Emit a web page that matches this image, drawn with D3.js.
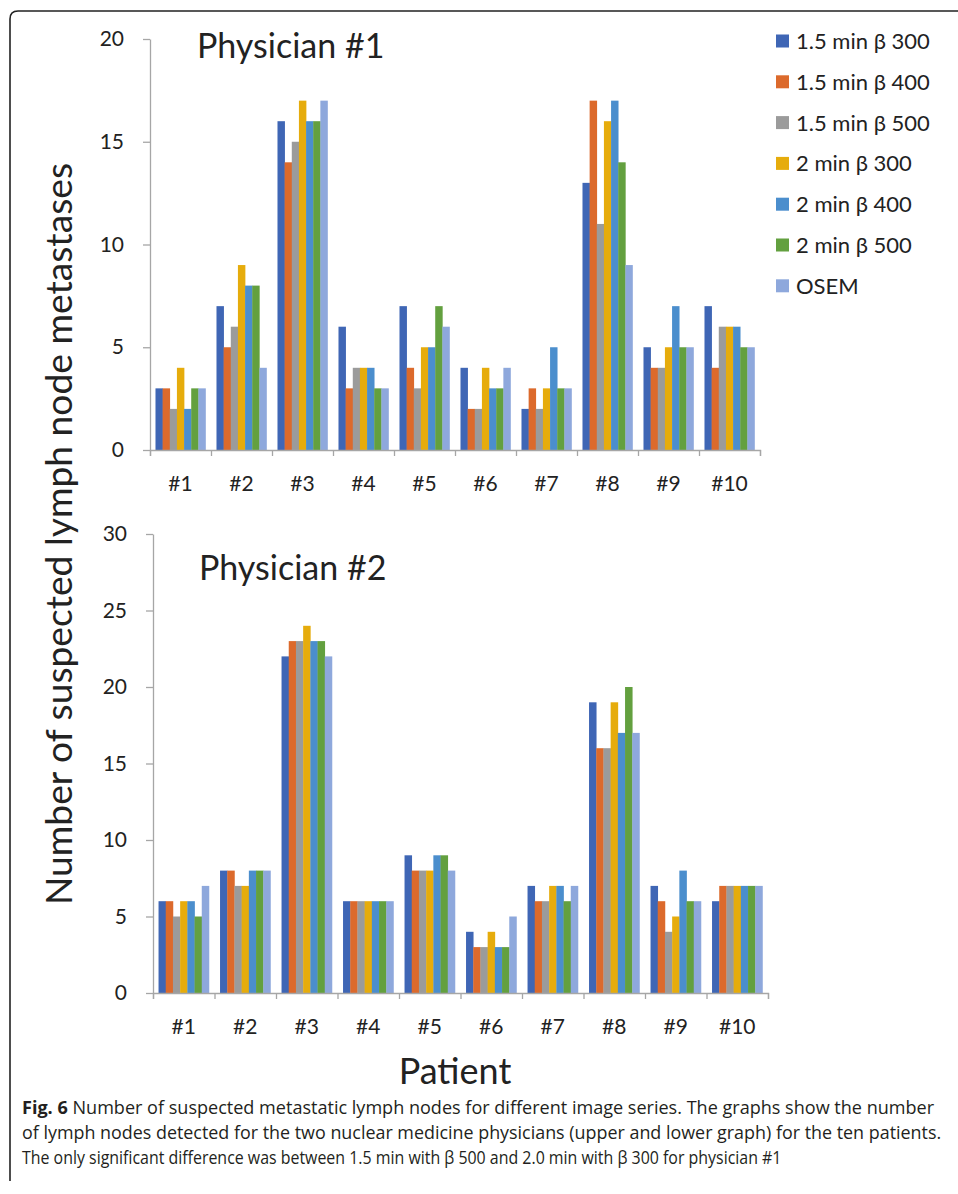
<!DOCTYPE html>
<html>
<head>
<meta charset="utf-8">
<script src="https://cdn.jsdelivr.net/npm/d3@7"></script>
<style>
  html, body { margin: 0; padding: 0; background: #fff; }
  svg text { font-family: Lato, "Open Sans", sans-serif; fill: #222; }
  .axis path, .axis line { stroke: #a6a6a6; stroke-width: 1.3; }
  .caption text { font-family: "Open Sans", sans-serif; fill: #231f20; }
</style>
</head>
<body>
<svg id="chart" width="958" height="1194"></svg>
<script>
/* Fig. 6: suspected lymph node metastases per patient, two physicians */

const patients = ['#1', '#2', '#3', '#4', '#5', '#6', '#7', '#8', '#9', '#10'];
const seriesNames = ['1.5 min β 300', '1.5 min β 400', '1.5 min β 500', '2 min β 300', '2 min β 400', '2 min β 500', 'OSEM'];
const seriesColors = ['#3f66b5', '#dc6a2c', '#9b9b9b', '#e6ac0c', '#4b8ecd', '#63a03f', '#8ea8dc'];

// one row per series, one value per patient
const physician1 = [
  [3, 7, 16, 6, 7, 4, 2, 13, 5, 7],
  [3, 5, 14, 3, 4, 2, 3, 17, 4, 4],
  [2, 6, 15, 4, 3, 2, 2, 11, 4, 6],
  [4, 9, 17, 4, 5, 4, 3, 16, 5, 6],
  [2, 8, 16, 4, 5, 3, 5, 17, 7, 6],
  [3, 8, 16, 3, 7, 3, 3, 14, 5, 5],
  [3, 4, 17, 3, 6, 4, 3, 9, 5, 5]
];
const physician2 = [
  [6, 8, 22, 6, 9, 4, 7, 19, 7, 6],
  [6, 8, 23, 6, 8, 3, 6, 16, 6, 7],
  [5, 7, 23, 6, 8, 3, 6, 16, 4, 7],
  [6, 7, 24, 6, 8, 4, 7, 19, 5, 7],
  [6, 8, 23, 6, 9, 3, 7, 17, 8, 7],
  [5, 8, 23, 6, 9, 3, 6, 20, 6, 7],
  [7, 8, 22, 6, 8, 5, 7, 17, 6, 7]
];
const yTicks1 = [0, 5, 10, 15, 20];
const yTicks2 = [0, 5, 10, 15, 20, 25, 30];

const captionLines = [
  'Number of suspected metastatic lymph nodes for different image series. The graphs show the number',
  'of lymph nodes detected for the two nuclear medicine physicians (upper and lower graph) for the ten patients.',
  'The only significant difference was between 1.5 min with β 500 and 2.0 min with β 300 for physician #1'
];

const svg = d3.select('#chart');

// frame (left + top edges, rounded corner)
svg.append('path')
  .attr('d', 'M10,1181 L10,19 Q10,11 18,11 L960,11')
  .attr('fill', 'none').attr('stroke', '#222').attr('stroke-width', 1.6);

function drawPanel(data, ticks, opts) {
  const x = d3.scaleBand().domain(patients).range([opts.x0, opts.x1])
    .paddingInner(0.18).paddingOuter(0.09);
  const xs = d3.scaleBand().domain(d3.range(seriesNames.length)).range([0, x.bandwidth()]);
  const y = d3.scaleLinear().domain([0, d3.max(ticks)]).range([opts.y0, opts.y1]);

  const g = svg.append('g');

  // y axis
  g.append('g').attr('class', 'axis').attr('transform', `translate(${opts.x0},0)`)
    .call(d3.axisLeft(y).tickValues(ticks).tickSize(7).tickPadding(19).tickSizeOuter(0))
    .call(a => a.selectAll('text').style('font-size', '21px').style('fill', '#222'));

  // bars
  seriesNames.forEach((s, si) => {
    g.selectAll('.bar-' + si).data(data[si]).enter().append('rect')
      .attr('x', (d, i) => x(patients[i]) + xs(si))
      .attr('y', d => y(d))
      .attr('width', xs.bandwidth() + 0.3)
      .attr('height', d => opts.y0 - y(d))
      .attr('fill', seriesColors[si]);
  });

  // x axis: tick marks between categories, labels centred
  const xb = d3.scaleLinear().domain([0, patients.length]).range([opts.x0, opts.x1]);
  g.append('g').attr('class', 'axis').attr('transform', `translate(0,${opts.y0})`)
    .call(d3.axisBottom(xb).ticks(patients.length).tickSize(6).tickSizeOuter(6).tickFormat(''));
  g.append('g').attr('transform', `translate(0,${opts.y0})`)
    .call(d3.axisBottom(x).tickSize(0).tickPadding(26))
    .call(a => a.select('.domain').remove())
    .call(a => a.selectAll('text').style('font-size', '21px').style('fill', '#222'));

  g.append('text')
    .attr('x', opts.titleX).attr('y', opts.titleY)
    .style('font-size', '34px')
    .text(opts.title);
}

drawPanel(physician1, yTicks1, { x0: 150, x1: 760, y0: 450, y1: 39, title: 'Physician #1', titleX: 197, titleY: 58 });
drawPanel(physician2, yTicks2, { x0: 153, x1: 768, y0: 993, y1: 534, title: 'Physician #2', titleX: 199, titleY: 580 });

// legend
const legend = svg.append('g').attr('transform', 'translate(776,0)');
seriesNames.forEach((s, i) => {
  const cy = 41 + i * 40.8;
  legend.append('rect').attr('x', 0).attr('y', cy - 6.5).attr('width', 13).attr('height', 13)
    .attr('fill', seriesColors[i]);
  legend.append('text').attr('x', 20).attr('y', cy).attr('dy', '0.36em')
    .style('font-size', '22px').text(s);
});

// axis titles
svg.append('text')
  .attr('transform', 'translate(72,534) rotate(-90)')
  .attr('text-anchor', 'middle')
  .attr('textLength', 742).attr('lengthAdjust', 'spacingAndGlyphs')
  .style('font-size', '36px')
  .text('Number of suspected lymph node metastases');

svg.append('text')
  .attr('x', 455).attr('y', 1084)
  .attr('text-anchor', 'middle')
  .style('font-size', '36px')
  .text('Patient');

// caption: condensed look by squeezing each line to its width in the figure
const cap = svg.append('g').attr('class', 'caption');
const capWidths = [913, 920, 760];
captionLines.forEach((line, i) => {
  const t = cap.append('text')
    .attr('x', 0).attr('y', 0)
    .style('font-size', '18px');
  if (i === 0) {
    t.append('tspan').style('font-weight', 'bold').text('Fig. 6 ');
  }
  t.append('tspan').text(line);
  const w = t.node().getComputedTextLength();
  t.attr('transform', `translate(22,${1114 + i * 25}) scale(${capWidths[i] / w},1)`);
});
</script>
</body>
</html>
